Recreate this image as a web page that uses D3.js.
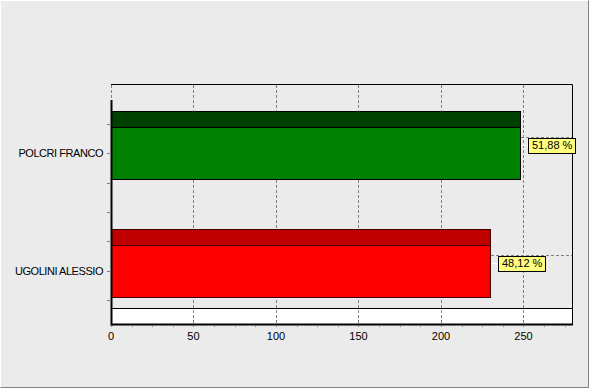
<!DOCTYPE html>
<html>
<head>
<meta charset="utf-8">
<script src="https://cdn.jsdelivr.net/npm/d3@7"></script>
<style>
  body { margin: 0; background: #ebebeb; }
  svg { display: block; font-family: "Liberation Sans", Arial, sans-serif; }
</style>
</head>
<body>
<div id="chart"></div>
<script>
const categories = ["POLCRI FRANCO", "UGOLINI ALESSIO"];
const values = [248, 230];
const frontColors = ["#008000", "#ff0000"];
const topColors = ["#004000", "#c00000"];
const borderColors = ["#000000", "#400000"];
const xTicks = [0, 50, 100, 150, 200, 250];

const width = 589;
const height = 388;
const depth = 16;
const plotLeft = 111, plotRight = 572, plotTop = 100, plotBottom = 324;

const svg = d3
  .select("#chart")
  .append("svg")
  .attr("width", width)
  .attr("height", height);

// panel + bevel
svg.append("rect").attr("width", width).attr("height", height).attr("fill", "#ebebeb");
svg.append("path").attr("d", `M0.5,${height - 1}V0.5H${width - 1}`).attr("stroke", "#ffffff").attr("fill", "none");
svg.append("path").attr("d", `M0.5,${height - 0.5}H${width - 0.5}V0.5`).attr("stroke", "#808080").attr("fill", "none");

const x = d3.scaleLinear().domain([0, 279.4]).range([plotLeft, plotRight]);
const y = d3.scaleLinear().domain([-0.45, 1.45]).range([plotTop, plotBottom]);
const halfBar = 0.22;

const total = d3.sum(values);
const pct = (v) => d3.format(".2f")((v / total) * 100).replace(".", ",") + " %";

// floor
svg
  .append("rect")
  .attr("x", plotLeft + 0.5)
  .attr("y", plotBottom - depth + 0.5)
  .attr("width", plotRight - plotLeft)
  .attr("height", depth)
  .attr("fill", "#ffffff")
  .attr("stroke", "#000");

// back wall edges
svg
  .append("path")
  .attr("d", `M${plotLeft},${plotTop - depth + 0.5}H${plotRight + 0.5}V${plotBottom}`)
  .attr("stroke", "#000")
  .attr("fill", "none");

// grid
const grid = svg.append("g").attr("stroke", "#808080").attr("stroke-dasharray", "3,2").attr("fill", "none");
grid
  .selectAll(".vg")
  .data(xTicks)
  .join("line")
  .attr("x1", (d) => Math.round(x(d)) + 0.5)
  .attr("x2", (d) => Math.round(x(d)) + 0.5)
  .attr("y1", plotTop - depth + 1)
  .attr("y2", plotBottom);
grid
  .selectAll(".hg")
  .data(categories)
  .join("line")
  .attr("x1", plotLeft)
  .attr("x2", plotRight)
  .attr("y1", (d, i) => Math.round(y(i)) - depth + 0.5)
  .attr("y2", (d, i) => Math.round(y(i)) - depth + 0.5);

// bars
const bars = svg.append("g");
categories.forEach((c, i) => {
  const y0 = Math.round(y(i - halfBar));
  const y1 = Math.round(y(i + halfBar));
  const xe = Math.round(x(values[i]));
  bars
    .append("rect")
    .attr("x", plotLeft + 0.5)
    .attr("y", y0 - depth + 0.5)
    .attr("width", xe - plotLeft)
    .attr("height", depth)
    .attr("fill", topColors[i])
    .attr("stroke", borderColors[i]);
  bars
    .append("rect")
    .attr("x", plotLeft + 0.5)
    .attr("y", y0 + 0.5)
    .attr("width", xe - plotLeft)
    .attr("height", y1 - y0)
    .attr("fill", frontColors[i])
    .attr("stroke", borderColors[i]);
});

// axes
svg.append("line").attr("x1", plotLeft + 0.5).attr("x2", plotLeft + 0.5).attr("y1", plotTop).attr("y2", plotBottom + 2).attr("stroke", "#000").attr("stroke-width", 2);
svg.append("line").attr("x1", plotLeft).attr("x2", plotRight + 1).attr("y1", plotBottom + 0.5).attr("y2", plotBottom + 0.5).attr("stroke", "#000").attr("stroke-width", 2);

// y ticks (minor every quarter)
const yTickVals = d3.range(-0.25, 1.45, 0.25);
svg
  .append("g")
  .selectAll("line")
  .data(yTickVals)
  .join("line")
  .attr("x1", plotLeft - 4)
  .attr("x2", plotLeft)
  .attr("y1", (d) => Math.round(y(d)) + 0.5)
  .attr("y2", (d) => Math.round(y(d)) + 0.5)
  .attr("stroke", "#808080");

svg
  .append("g")
  .selectAll("text")
  .data(categories)
  .join("text")
  .attr("x", plotLeft - 8)
  .attr("y", (d, i) => y(i) + 4)
  .attr("text-anchor", "end")
  .style("font-size", "11px")
  .style("letter-spacing", "-0.45px")
  .text((d) => d);

// x ticks
const xMinor = d3.range(0, 280, 12.5);
svg
  .append("g")
  .selectAll("line")
  .data(xMinor)
  .join("line")
  .attr("x1", (d) => Math.round(x(d)) + 0.5)
  .attr("x2", (d) => Math.round(x(d)) + 0.5)
  .attr("y1", plotBottom + 1)
  .attr("y2", plotBottom + 3)
  .attr("stroke", "#808080");

svg
  .append("g")
  .selectAll("text")
  .data(xTicks)
  .join("text")
  .attr("x", (d) => x(d))
  .attr("y", plotBottom + 16)
  .attr("text-anchor", "middle")
  .style("font-size", "11px")
  .text((d) => d);

// marks
categories.forEach((c, i) => {
  const xe = Math.round(x(values[i]));
  const cy = Math.round(y(i)) - depth / 2;
  const g = svg.append("g");
  g.append("line")
    .attr("x1", xe + 1)
    .attr("x2", xe + 8)
    .attr("y1", cy + 0.5)
    .attr("y2", cy + 0.5)
    .attr("stroke", "#ffffff");
  const rect = g.append("rect");
  const t = g
    .append("text")
    .attr("x", xe + 8 + 4)
    .attr("y", cy + 4)
    .style("font-size", "11px")
    .text(pct(values[i]));
  const w = t.node().getComputedTextLength();
  rect
    .attr("x", xe + 8 + 0.5)
    .attr("y", cy - 7 + 0.5)
    .attr("width", Math.round(w) + 7)
    .attr("height", 15)
    .attr("fill", "#ffff80")
    .attr("stroke", "#000");
});
</script>
</body>
</html>
